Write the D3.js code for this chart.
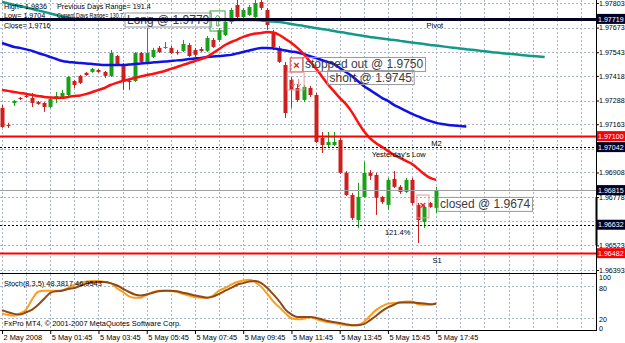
<!DOCTYPE html>
<html><head><meta charset="utf-8">
<script src="https://cdn.jsdelivr.net/npm/d3@7"></script>
<style>body{margin:0;background:#fff}svg{display:block}text{font-family:"Liberation Sans",Arial,sans-serif}</style>
</head><body><svg id="c" width="625" height="343"></svg>
<script>
// ---- DATA ----
const open=[1.97249,1.97159,1.97275,1.97302,1.97312,1.97302,1.97280,1.97275,1.97254,1.97296,1.97302,1.97317,1.97391,1.97418,1.97434,1.97439,1.97449,1.97439,1.97418,1.97523,1.97476,1.97391,1.97391,1.97539,1.97492,1.97518,1.97566,1.97566,1.97566,1.97544,1.97550,1.97581,1.97555,1.97560,1.97550,1.97608,1.97608,1.97634,1.97703,1.97793,1.97729,1.97740,1.97729,1.97808,1.97766,1.97645,1.97566,1.97476,1.97397,1.97354,1.97291,1.97354,1.97317,1.97090,1.97053,1.97053,1.97080,1.96906,1.96789,1.96657,1.96779,1.96906,1.96895,1.96779,1.96737,1.96874,1.96832,1.96805,1.96869,1.96737,1.96647,1.96747,1.96721];
const high=[1.97265,1.97170,1.97291,1.97307,1.97323,1.97328,1.97286,1.97280,1.97307,1.97333,1.97344,1.97418,1.97397,1.97423,1.97439,1.97460,1.97455,1.97444,1.97555,1.97529,1.97486,1.97402,1.97544,1.97544,1.97671,1.97566,1.97576,1.97597,1.97576,1.97555,1.97608,1.97592,1.97566,1.97571,1.97629,1.97618,1.97671,1.97713,1.97777,1.97819,1.97777,1.97793,1.97830,1.97830,1.97777,1.97661,1.97576,1.97492,1.97412,1.97375,1.97370,1.97365,1.97328,1.97122,1.97122,1.97122,1.97090,1.96916,1.96800,1.96853,1.96964,1.96921,1.96906,1.96784,1.96879,1.96916,1.96842,1.96879,1.96879,1.96747,1.96737,1.96752,1.96832];
const low=[1.97143,1.97143,1.97259,1.97291,1.97302,1.97254,1.97265,1.97228,1.97249,1.97275,1.97296,1.97312,1.97354,1.97375,1.97418,1.97434,1.97434,1.97407,1.97412,1.97476,1.97344,1.97344,1.97386,1.97486,1.97486,1.97513,1.97539,1.97560,1.97534,1.97529,1.97544,1.97518,1.97518,1.97544,1.97544,1.97566,1.97597,1.97629,1.97692,1.97724,1.97719,1.97735,1.97724,1.97766,1.97661,1.97555,1.97486,1.97196,1.97249,1.97280,1.97280,1.97307,1.97064,1.97011,1.97037,1.97048,1.96900,1.96784,1.96657,1.96615,1.96774,1.96869,1.96684,1.96742,1.96710,1.96826,1.96795,1.96800,1.96737,1.96536,1.96615,1.96721,1.96694];
const close=[1.97148,1.97154,1.97286,1.97296,1.97307,1.97275,1.97270,1.97254,1.97296,1.97312,1.97328,1.97412,1.97370,1.97381,1.97423,1.97455,1.97439,1.97418,1.97539,1.97481,1.97386,1.97386,1.97539,1.97492,1.97539,1.97555,1.97544,1.97571,1.97539,1.97539,1.97587,1.97523,1.97529,1.97550,1.97618,1.97571,1.97661,1.97703,1.97766,1.97729,1.97766,1.97782,1.97803,1.97777,1.97687,1.97571,1.97492,1.97222,1.97344,1.97291,1.97360,1.97317,1.97069,1.97053,1.97069,1.97069,1.96906,1.96789,1.96668,1.96779,1.96906,1.96890,1.96774,1.96752,1.96869,1.96832,1.96805,1.96869,1.96747,1.96657,1.96726,1.96726,1.96815];
const maRed=[1.97344,1.97339,1.97333,1.97328,1.97323,1.97317,1.97312,1.97307,1.97304,1.97302,1.97302,1.97307,1.97312,1.97315,1.97323,1.97333,1.97344,1.97354,1.97370,1.97381,1.97391,1.97399,1.97407,1.97415,1.97423,1.97428,1.97436,1.97444,1.97455,1.97465,1.97476,1.97486,1.97497,1.97507,1.97518,1.97539,1.97560,1.97581,1.97597,1.97610,1.97624,1.97634,1.97642,1.97645,1.97650,1.97647,1.97634,1.97613,1.97592,1.97566,1.97534,1.97497,1.97460,1.97418,1.97375,1.97339,1.97302,1.97270,1.97228,1.97175,1.97127,1.97090,1.97064,1.97043,1.97022,1.97001,1.96985,1.96969,1.96953,1.96927,1.96900,1.96879,1.96869];
const maBlue=[1.97592,1.97581,1.97571,1.97566,1.97558,1.97550,1.97539,1.97529,1.97518,1.97507,1.97497,1.97492,1.97489,1.97486,1.97484,1.97481,1.97478,1.97476,1.97476,1.97476,1.97476,1.97478,1.97481,1.97484,1.97486,1.97489,1.97492,1.97494,1.97497,1.97500,1.97502,1.97507,1.97510,1.97513,1.97518,1.97521,1.97523,1.97526,1.97529,1.97537,1.97544,1.97552,1.97560,1.97566,1.97566,1.97563,1.97558,1.97552,1.97547,1.97542,1.97534,1.97523,1.97513,1.97502,1.97492,1.97481,1.97460,1.97439,1.97418,1.97391,1.97365,1.97344,1.97323,1.97302,1.97286,1.97265,1.97249,1.97233,1.97217,1.97204,1.97191,1.97180,1.97170,1.97164,1.97159,1.97156,1.97154,1.97151];
const maTeal=[1.97808,1.97801,1.97793,1.97787,1.97779,1.97771,1.97764,1.97756,1.97748,1.97740,1.97732,1.97727,1.97721,1.97719,1.97716,1.97716,1.97716,1.97716,1.97716,1.97716,1.97716,1.97716,1.97713,1.97713,1.97713,1.97713,1.97713,1.97713,1.97713,1.97713,1.97713,1.97713,1.97713,1.97713,1.97713,1.97713,1.97713,1.97713,1.97713,1.97713,1.97713,1.97713,1.97713,1.97711,1.97708,1.97705,1.97703,1.97698,1.97692,1.97687,1.97682,1.97676,1.97671,1.97666,1.97661,1.97655,1.97650,1.97645,1.97639,1.97634,1.97629,1.97624,1.97619,1.97615,1.97611,1.97607,1.97603,1.97598,1.97594,1.97590,1.97586,1.97581,1.97578,1.97574,1.97570,1.97567,1.97563,1.97559,1.97556,1.97552,1.97548,1.97544,1.97541,1.97538,1.97535,1.97532,1.97529,1.97526,1.97523,1.97521,1.97518];
const stochK=[29,26,25,29,36,55,69,71,71,71,72,76,82,85,88,89,89,87,85,76,69,61,58,58,64,68,71,71,70,69,65,62,59,58,58,62,71,76,82,87,90,91,87,78,65,51,40,29,20,18,19,22,19,15,13,11,9,7,7,8,13,24,35,42,47,48,49,51,51,46,45,45,48.38];
const stochD=[35,31,28,27,31,36,45,56,67,70,71,74,76,80,84,86,87,87,85,81,75,69,64,62,64,67,70,71,71,70,67,65,62,60,58,60,65,71,76,82,85,88,89,85,76,64,51,36,27,22,22,22,21,18,15,13,11,9,7,7,9,16,24,33,40,45,49,49,49,48,47,46,46.95];
const priceTicks=[1.97803,1.97673,1.97543,1.97418,1.97288,1.97163,1.97033,1.96908,1.96778,1.96652,1.96523,1.96393];
const timeTickIdx=[0,8,16,24,32,40,48,56,64,72];
const timeTickText=["2 May 2008","5 May 01:45","5 May 03:45","5 May 05:45","5 May 07:45","5 May 09:45","5 May 11:45","5 May 13:45","5 May 15:45","5 May 17:45"];
const levelNames=["Pivot","M2","Yesterday's Low","121.4%","S1"];
const levelValues=[1.97719,1.97100,1.97042,1.96632,1.96482];
const levelKinds=["pivot","red","dash","dash","red"];
const levelLabelIdx=[70.4,71.2,61.3,63.5,71.4];
const currentPrice=1.96815;
const notes=["Long @ 1.9779","stopped out @ 1.9750","short @ 1.9745","closed @ 1.9674"];
const noteIdx=[20.4,49.9,54.0,72.3];
const notePrice=[1.97716,1.97481,1.97412,1.96742];
const infoLines=[["High= 1.9836","Previous Days Range= 191.4"],["Low= 1.9704","Current Days Range= 130.7"],["Close= 1.9716",""]];

// ---- LAYOUT ----
const svg=d3.select("#c");
svg.append("rect").attr("width",625).attr("height",343).attr("fill","#fff");
const R=596, MB=273, ST=274, SB=330, FS=7.1;
const x=d3.scaleLinear().domain([0,72]).range([2,2+72*6.03]);
const y=d3.scaleLinear().domain([1.96393,1.97803]).range([270,3]);
const ys=d3.scaleLinear().domain([0,100]).range([329,275]);
const defs=svg.append("defs");
defs.append("clipPath").attr("id","cm").append("rect").attr("x",0).attr("y",0).attr("width",R).attr("height",MB);
defs.append("clipPath").attr("id","cs").append("rect").attr("x",0).attr("y",ST).attr("width",R).attr("height",SB-ST);
const gridC="#aab4c8";
const gm=svg.append("g").attr("clip-path","url(#cm)");
const gs=svg.append("g").attr("clip-path","url(#cs)");
// grid
d3.range(0,100,4).forEach(i=>{const xx=Math.round(x(i))+0.5; if(xx<R){
  gm.append("line").attr("x1",xx).attr("x2",xx).attr("y1",0).attr("y2",MB).attr("stroke",gridC).attr("stroke-dasharray","2,2");
  gs.append("line").attr("x1",xx).attr("x2",xx).attr("y1",ST).attr("y2",SB).attr("stroke",gridC).attr("stroke-dasharray","2,2");}});
priceTicks.forEach(p=>{const yy=Math.round(y(p))+0.5;
  gm.append("line").attr("x1",0).attr("x2",R).attr("y1",yy).attr("y2",yy).attr("stroke",gridC).attr("stroke-dasharray","2,2");});
[80,20].forEach(v=>{const yy=Math.round(ys(v))+0.5;
  gs.append("line").attr("x1",0).attr("x2",R).attr("y1",yy).attr("y2",yy).attr("stroke",gridC).attr("stroke-dasharray","2,2");});

// candles
const up="#17a117", dn="#cc2020";
open.forEach((o,i)=>{const c=close[i], col=c>=o?up:dn, xc=Math.round(x(i))+0.5;
  gm.append("line").attr("x1",xc).attr("x2",xc).attr("y1",y(high[i])).attr("y2",y(low[i])).attr("stroke",col).attr("stroke-width",1);
  const y0=Math.min(y(o),y(c)), h=Math.max(1,Math.abs(y(o)-y(c)));
  gm.append("rect").attr("x",xc-2).attr("y",y0).attr("width",4).attr("height",h).attr("fill",col);
});
// MAs
const ln=d3.line().x((d,i)=>x(i)).y(d=>y(d)).curve(d3.curveMonotoneX);
gm.append("path").attr("d",ln(maTeal)).attr("fill","none").attr("stroke","#13988a").attr("stroke-width",2.5);
gm.append("path").attr("d",ln(maBlue)).attr("fill","none").attr("stroke","#1010e8").attr("stroke-width",2.5);
gm.append("path").attr("d",ln(maRed)).attr("fill","none").attr("stroke","#ff1010").attr("stroke-width",2.5);

// notes (text objects)
notes.forEach((t,k)=>{const g=gm.append("g");
  const tx=g.append("text").attr("x",x(noteIdx[k])+2).attr("y",y(notePrice[k])+4.5).attr("font-size",12).attr("fill","#3c3c3c").text(t);
  const bb=tx.node().getBBox();
  g.insert("rect","text").attr("x",bb.x-2).attr("y",bb.y).attr("width",bb.width+4).attr("height",bb.height).attr("fill","none").attr("stroke","#9a9a9a");
});
// trade markers
function box(i0,i1,p0,p1,col){return gm.append("rect").attr("x",x(i0)).attr("y",y(p0)).attr("width",x(i1)-x(i0)).attr("height",y(p1)-y(p0)).attr("fill","none").attr("stroke",col);}
box(34.5,37,1.97761,1.97655,"#3aa03a");
const ax=x(35.75), ay=y(1.97708);
gm.append("path").attr("d",`M${ax},${ay-6}L${ax-3},${ay-2}L${ax-1},${ay-2}L${ax-1},${ay+5}L${ax+1},${ay+5}L${ax+1},${ay-2}L${ax+3},${ay-2}Z`).attr("fill","none").attr("stroke","#3aa03a").attr("stroke-width",0.8);
box(47.8,49.9,1.97513,1.97439,"#d04848");
gm.append("text").attr("x",x(48.85)).attr("y",y(1.97476)+4).attr("text-anchor","middle").attr("font-size",11).attr("font-weight","bold").attr("fill","#d02020").text("×");
box(47.3,50.1,1.97439,1.97344,"#e49a9a");
[48.2,49.2].forEach(i=>{const px=x(i),py=y(1.97402);gm.append("path").attr("d",`M${px},${py}L${px},${py+8}M${px-2},${py+5}L${px},${py+8}L${px+2},${py+5}`).attr("stroke","#d06060").attr("fill","none").attr("stroke-width",0.8);});
box(68.8,70.8,1.96789,1.96668,"#e49a9a");
gm.append("text").attr("x",x(69.8)).attr("y",y(1.96737)+4).attr("text-anchor","middle").attr("font-size",11).attr("font-weight","bold").attr("fill","#d02020").text("×");

// level lines
levelValues.forEach((v,k)=>{const yy=Math.round(y(v))+0.5, kind=levelKinds[k];
  const l=gm.append("line").attr("x1",0).attr("x2",R).attr("y1",yy).attr("y2",yy);
  if(kind==="pivot") l.attr("stroke","#000028").attr("stroke-width",3);
  else if(kind==="red") l.attr("stroke","#ff0000").attr("stroke-width",2);
  else l.attr("stroke","#000").attr("stroke-width",1).attr("stroke-dasharray","2,2");
  gm.append("text").attr("x",x(levelLabelIdx[k])).attr("y",yy+(kind==="pivot"?8:9)).attr("font-size",7.5).attr("fill","#000").text(levelNames[k]);
});
gm.append("line").attr("x1",0).attr("x2",R).attr("y1",Math.round(y(currentPrice))+0.5).attr("y2",Math.round(y(currentPrice))+0.5).attr("stroke","#a0a0a0");

// stoch
const ls=d3.line().x((d,i)=>x(i)).y(d=>ys(d)).curve(d3.curveMonotoneX);
gs.append("path").attr("d",ls(stochK)).attr("fill","none").attr("stroke","#ff9c1a").attr("stroke-width",2);
gs.append("path").attr("d",ls(stochD)).attr("fill","none").attr("stroke","#8e4a16").attr("stroke-width",2);

// borders
svg.append("line").attr("x1",R+0.5).attr("x2",R+0.5).attr("y1",0).attr("y2",SB+1).attr("stroke","#000");
svg.append("line").attr("x1",0).attr("x2",R+1).attr("y1",MB+0.5).attr("y2",MB+0.5).attr("stroke","#000");
svg.append("line").attr("x1",0).attr("x2",R+1).attr("y1",SB+0.5).attr("y2",SB+0.5).attr("stroke","#000");
svg.append("rect").attr("x",R-0.5).attr("y",y(1.96778)).attr("width",2).attr("height",y(1.96523)-y(1.96778)).attr("fill","#000");

// price axis
const hl=[[1.97719,"#000028"],[1.97100,"#ff0000"],[1.97042,"#000028"],[currentPrice,"#000028"],[1.96632,"#000028"],[1.96482,"#ff0000"]];
const shown=priceTicks.filter(p=>!hl.some(h=>Math.abs(y(h[0])-y(p))<5));
const pa=svg.append("g").attr("transform",`translate(${R+1},0)`).call(d3.axisRight(y).tickValues(shown).tickFormat(d3.format(".5f")).tickSize(2).tickPadding(0));
pa.select(".domain").remove();
pa.selectAll("text").attr("font-size",FS).attr("fill","#000").attr("font-family","Liberation Sans, Arial");
pa.selectAll("line").attr("stroke","#000");
// highlighted labels
hl.forEach(([p,c])=>{const yy=y(p);
  svg.append("rect").attr("x",R+1).attr("y",yy-5).attr("width",28).attr("height",10).attr("fill",c);
  svg.append("text").attr("x",R+2).attr("y",yy+2.6).attr("font-size",FS).attr("fill","#fff").text(d3.format(".5f")(p));});
// stoch axis labels
[[100,1.5],[80,2.5],[20,1],[0,-1]].forEach(([v,dy])=>{svg.append("text").attr("x",R+3).attr("y",ys(v)+dy+3).attr("font-size",FS).attr("fill","#000").text(v);});

// time axis
const ta=svg.append("g").attr("transform",`translate(0,${SB+1})`).call(d3.axisBottom(x).tickValues(timeTickIdx).tickFormat((d,k)=>timeTickText[k]).tickSize(3).tickPadding(1));
ta.select(".domain").remove();
ta.selectAll("line").attr("stroke","#000");
ta.selectAll("text").attr("text-anchor","start").attr("dx",1).attr("font-size",7.4).attr("fill","#000").attr("font-family","Liberation Sans, Arial");

// info text
infoLines.forEach((row,r)=>{svg.append("text").attr("x",4).attr("y",9+r*9.3).attr("font-size",7.2).text(row[0]);
  if(row[1]){const t=svg.append("text").attr("x",57).attr("y",9+r*9.3).attr("font-size",7.2).text(row[1]);
    if(r===1) t.attr("textLength",66).attr("lengthAdjust","spacingAndGlyphs");}});
svg.append("text").attr("x",4).attr("y",286).attr("font-size",7.4).text("Stoch(8,3,5) 48.3817 46.9543");
svg.append("text").attr("x",4).attr("y",326).attr("font-size",7.4).text("FxPro MT4, © 2001-2007 MetaQuotes Software Corp.");
</script></body></html>
